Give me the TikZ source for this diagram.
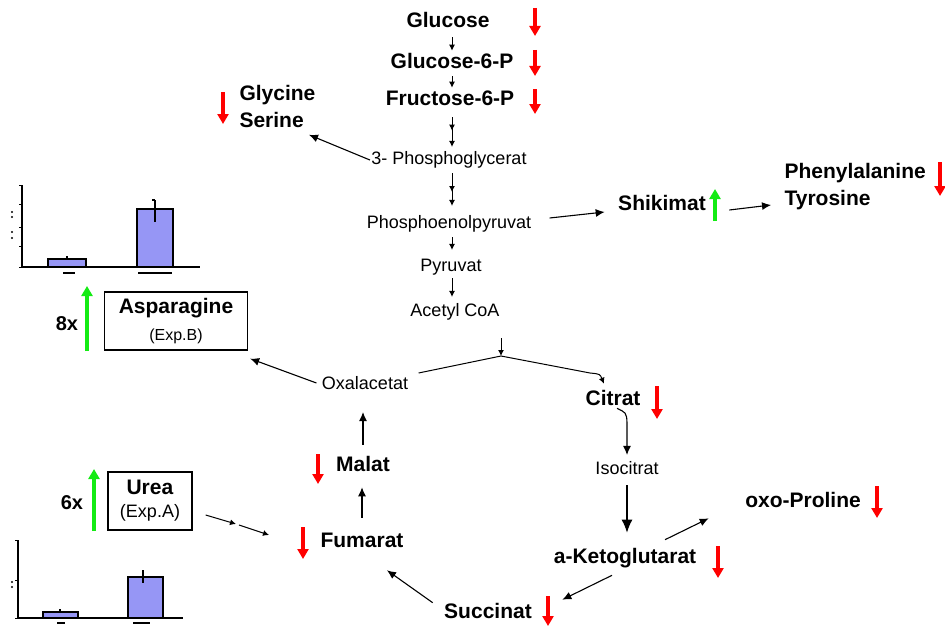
\documentclass[tikz,border=0pt]{standalone}
\usepackage{fontspec}
\setmainfont{Liberation Sans}
\usetikzlibrary{arrows.meta,decorations.markings}
\definecolor{upgreen}{RGB}{20,235,20}
\definecolor{barblue}{RGB}{150,150,245}

\begin{document}
\begin{tikzpicture}[
    x=1pt, y=-1pt,
    line width=1.1pt,
    every node/.style={text=black, inner sep=1pt},
    keymet/.style={font=\fontsize{21}{24}\selectfont\bfseries, text height=15pt, text depth=4.5pt},
    metab/.style={font=\fontsize{18}{21}\selectfont, text height=13pt, text depth=4pt},
    conv/.style={draw=black, -{Latex[length=9pt,width=8pt]}},
    chain/.style={draw=black, line width=1pt, -{Latex[length=6pt,width=6pt]}, shorten <=2pt, shorten >=5pt},
    twochain/.style={chain, postaction={decorate},
      decoration={markings, mark=at position 0.5 with {\arrow{Latex[length=6pt,width=6pt]}}}},
    decr/.style={draw=red, line width=3.5pt, -{Triangle[length=10pt,width=11pt]}},
    incr/.style={draw=upgreen, line width=3.5pt, -{Triangle[length=10pt,width=11pt]}},
    expbox/.style={draw=black, line width=1.3pt, align=center},
    bar/.style={draw=black, line width=1.2pt, fill=barblue},
    axisline/.style={draw=black, line width=1.2pt}
  ]
  \useasboundingbox (0,0) rectangle (945,626);

  %--------------------------------------
  % 1) Glycolysis spine
  %--------------------------------------
  \coordinate (spine) at (452,0);
  \node[keymet] (glc)  at (448,22)  {Glucose};
  \node[keymet] (g6p)  at (452,63)  {Glucose-6-P};
  \node[keymet] (f6p)  at (450,100) {Fructose-6-P};
  \node[metab]  (pga)  at (449,160) {3- Phosphoglycerat};
  \node[metab]  (pep)  at (449,224) {Phosphoenolpyruvat};
  \node[metab]  (pyr)  at (451,267) {Pyruvat};
  \node[metab]  (acoa) at (455,312) {Acetyl CoA};

  \draw[chain, shorten <=4pt, shorten >=1pt] (glc.south -| spine) -- (g6p.north -| spine);
  \draw[chain, shorten >=1pt] (g6p.south -| spine) -- (f6p.north -| spine);
  \draw[twochain, shorten <=6pt, shorten >=3pt] (f6p.south -| spine) -- (pga.north -| spine);
  \draw[twochain, shorten <=3pt, shorten >=8pt] (pga.south -| spine) -- (pep.north -| spine);
  \draw[chain, shorten <=3pt, shorten >=7pt] (pep.south -| spine) -- (pyr.north -| spine);
  \draw[chain, shorten <=1pt, shorten >=5pt] (pyr.south -| spine) -- (acoa.north -| spine);

  % side branches
  \node[keymet, anchor=west] (gly) at (238,95)  {Glycine};
  \node[keymet, anchor=west] (ser) at (238,122) {Serine};
  \draw[conv, shorten >=4pt] (pga.west) -- (ser.south east);

  \node[keymet] (shik) at (662,205) {Shikimat};
  \node[keymet, anchor=west] (phe) at (783,173) {Phenylalanine};
  \node[keymet, anchor=west] (tyr) at (783,200) {Tyrosine};
  \draw[conv] ([shift={(17,-6)}]pep.east) -- ([shift={(-12,7)}]shik.west);
  \draw[conv] ([shift={(22,5)}]shik.east) -- ([shift={(-12,5)}]tyr.west);

  %--------------------------------------
  % 2) Citrate cycle
  %--------------------------------------
  \node[metab]  (oxa)  at (365,385) {Oxalacetat};
  \node[keymet] (cit)  at (613,400) {Citrat};
  \node[metab]  (iso)  at (627,470) {Isocitrat};
  \node[keymet] (akg)  at (625,558) {a-Ketoglutarat};
  \node[keymet] (oxo)  at (803,502) {oxo-Proline};
  \node[keymet] (succ) at (488,613) {Succinat};
  \node[keymet] (fum)  at (362,542) {Fumarat};
  \node[keymet] (mal)  at (363,466) {Malat};

  \coordinate (join) at (501,356);
  \coordinate (bend) at (590,373);
  \draw[chain, shorten <=16pt, shorten >=0pt] (acoa.south east -| join) -- (join);
  \draw[draw=black, line width=1pt, -{Latex[length=6pt,width=6pt]}]
    ([shift={(9,-12)}]oxa.east) -- (join) -- (bend) .. controls (600,374) .. ([shift={(20,-5)}]cit.north west);
  \draw[conv, shorten >=5pt] ([shift={(4,-3)}]cit.south) .. controls +(8,4) and +(0,-12) .. ([shift={(0,-36)}]iso.north) -- (iso.north);
  \draw[draw=black, line width=1.4pt, -{Latex[length=13pt,width=11pt]}, shorten <=5pt, shorten >=14pt]
    (iso.south) -- (iso.south |- akg.north);
  \draw[conv] ([shift={(40,-7)}]akg.north) -- ([shift={(-35,5)}]oxo.south west);
  \draw[conv] ([shift={(-13,6)}]akg.south) -- ([shift={(29,-2)}]succ.north east);
  \draw[conv] ([shift={(-10,1)}]succ.north west) -- ([shift={(25,17)}]fum.south);
  \draw[conv, shorten <=13pt, shorten >=10pt] (fum.north) -- (fum.north |- mal.south);
  \draw[conv, shorten <=10pt, shorten >=17pt] (mal.north) -- (mal.north |- oxa.south);

  %--------------------------------------
  % 3) Asparagine and urea boxes
  %--------------------------------------
  \node[expbox, minimum width=143pt, minimum height=58pt, font=\fontsize{16}{27}\selectfont] (asn) at (176,321)
    {\textbf{\fontsize{21}{27}\selectfont Asparagine}\\(Exp.B)};
  \node[expbox, minimum width=84pt, minimum height=58pt, font=\fontsize{18}{23}\selectfont] (urea) at (150,501)
    {\textbf{\fontsize{21}{23}\selectfont Urea}\\(Exp.A)};
  \draw[conv] ([shift={(-4,-2)}]oxa.west) -- ([shift={(2,8)}]asn.south east);

  \coordinate (ugapA) at (236,524);
  \coordinate (ugapB) at (239,525);
  \draw[chain, shorten <=0pt, shorten >=0pt] ([shift={(13,14)}]urea.east) -- (ugapA);
  \draw[chain, shorten <=0pt, shorten >=0pt] (ugapB) -- ([shift={(-50,-7)}]fum.west);

  \node[font=\fontsize{20}{22}\selectfont\bfseries] (fold8) at (67,324) {8x};
  \node[font=\fontsize{20}{22}\selectfont\bfseries] (fold6) at (72,503) {6x};

  %--------------------------------------
  % 4) up / down markers
  %--------------------------------------
  \draw[decr] (535,8)   -- (535,36);
  \draw[decr] (535,50)  -- (535,76);
  \draw[decr] (535,89)  -- (535,114);
  \draw[decr] (223,92)  -- (223,124);
  \draw[decr] (940,162) -- (940,196);
  \draw[decr] (657,386) -- (657,419);
  \draw[decr] (318,454) -- (318,484);
  \draw[decr] (303,527) -- (303,559);
  \draw[decr] (548,596) -- (548,626);
  \draw[decr] (718,546) -- (718,578);
  \draw[decr] (877,486) -- (877,518);
  \draw[incr] (715,221) -- (715,189);
  \draw[incr] (87,351)  -- (87,286);
  \draw[incr] (94,531)  -- (94,469);

  %--------------------------------------
  % 5) bar charts
  %--------------------------------------
  % Asparagine
  \draw[bar] (48,267) rectangle (86,259);
  \draw[bar] (137,267) rectangle (173,209);
  \draw[axisline] (22,185) -- (22,267) -- (200,267);
  \foreach \ty in {185,204,227,246,267} \draw[line width=1pt] (19,\ty) -- (22,\ty);
  \foreach \ty in {212,217,232,238} \fill (12,\ty) circle (1.1pt);
  \draw[line width=1.2pt] (155,200) -- (155,222) (152,200) -- (155,200);
  \draw[line width=1.2pt] (67,256) -- (67,260);
  \draw[line width=2.5pt] (63,273) -- (75,273);
  \draw[line width=2.5pt] (138,273) -- (172,273);

  % Urea
  \draw[bar] (43,618) rectangle (78,612);
  \draw[bar] (128,618) rectangle (163,577);
  \draw[axisline] (18,540) -- (18,618) -- (183,618);
  \foreach \ty in {540,580,618} \draw[line width=1pt] (15,\ty) -- (18,\ty);
  \foreach \ty in {582,587} \fill (12,\ty) circle (1.1pt);
  \draw[line width=1.2pt] (143,570) -- (143,583);
  \draw[line width=1.2pt] (60,609) -- (60,612);
  \draw[line width=1.5pt] (57,623) -- (65,623);
  \draw[line width=1.5pt] (133,623) -- (150,623);

\end{tikzpicture}
\end{document}
